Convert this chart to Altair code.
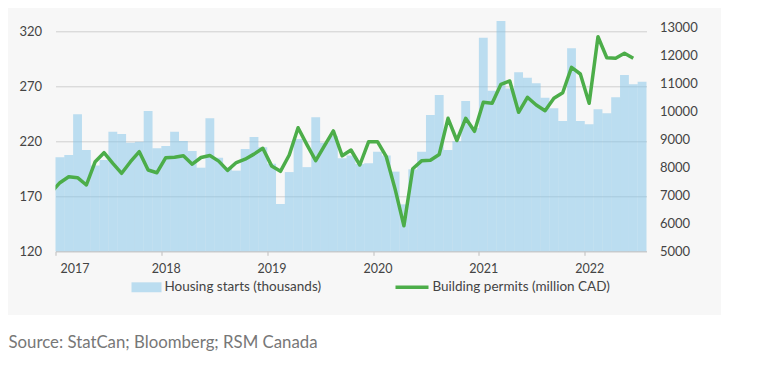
import altair as alt
import pandas as pd

# ---- data ----
bar_months = [f"{y}-{m:02d}" for y in range(2017, 2023) for m in range(1, 13)][:67]  # Jan 2017 .. Jul 2022
housing_starts = [
    205.5, 207.5, 244.5, 212.0, 198.0, 203.0, 228.7, 226.6, 218.7, 219.6, 247.5, 213.6,
    215.7, 228.7, 220.3, 211.2, 196.0, 240.9, 205.0, 196.0, 193.3, 213.0, 224.0, 214.5,
    199.5, 163.0, 192.0, 222.0, 196.5, 241.8, 218.7, 224.8, 204.5, 207.0, 199.4, 200.0,
    210.5, 207.0, 192.4, 162.7, 194.5, 210.5, 244.0, 262.0, 212.0, 220.0, 256.7, 232.0,
    314.2, 266.0, 329.4, 268.0, 282.7, 277.8, 272.7, 259.6, 250.0, 238.5, 304.5, 238.5,
    235.4, 249.0, 245.5, 260.0, 280.3, 271.8, 274.2,
]
line_months = ["2016-12"] + [f"{y}-{m:02d}" for y in range(2017, 2023) for m in range(1, 13)][:66]  # Dec 2016 .. Jun 2022
building_permits = [
    7100,
    7450, 7664, 7629, 7368, 8200, 8521, 8143, 7786, 8200, 8557, 7904, 7807,
    8343, 8357, 8414, 8110, 8350, 8420, 8220, 7890, 8170, 8290, 8470, 8679,
    8050, 7855, 8439, 9414, 8810, 8236, 8771, 9300, 8410, 8618, 8082, 8914,
    8914, 8379, 7220, 5910, 7950, 8230, 8255, 8457, 9750, 8957, 9750, 9285,
    10321, 10286, 10964, 11082, 9964, 10500, 10225, 10021, 10464, 10664, 11571, 11332,
    10286, 12664, 11914, 11893, 12071, 11893,
]
left_ticks = [120, 170, 220, 270, 320]
right_ticks = [5000, 6000, 7000, 8000, 9000, 10000, 11000, 12000, 13000]
year_ticks = [2017, 2018, 2019, 2020, 2021, 2022]
bar_label = "Housing starts (thousands)"
line_label = "Building permits (million CAD)"
source_text = "Source: StatCan; Bloomberg; RSM Canada"


def month_index(s):
    y, m = s.split("-")
    return (int(y) - 2017) * 12 + int(m) - 1


bars_df = pd.DataFrame({
    "start": [month_index(s) for s in bar_months],
    "end": [month_index(s) + 1 for s in bar_months],
    "value": housing_starts,
    "series": bar_label,
})
line_df = pd.DataFrame({
    "pos": [month_index(s) + 0.5 for s in line_months],
    "value": building_permits,
    "series": line_label,
})

FONT = "Lato"
x_scale = alt.Scale(domain=[0, 67], nice=False, zero=False)

# white strip below the grey panel (the chart background itself is the grey panel)
strip = alt.Chart(pd.DataFrame({"p": [0]})).mark_rect(color="white").encode(
    x=alt.value(-48), x2=alt.value(666), y=alt.value(287.7), y2=alt.value(331)
)

bars = alt.Chart(bars_df).mark_rect(opacity=0.5).encode(
    x=alt.X("start:Q", scale=x_scale, title=None,
            axis=alt.Axis(values=[(y - 2017) * 12 for y in year_ticks],
                          labelExpr="2017 + datum.value / 12",
                          grid=False, domainColor="#c8c8c8", tickColor="#bdbdbd",
                          tickSize=4, labelPadding=7, labelOffset=4.4,
                          labelFont=FONT, labelFontSize=12.5, labelColor="#444444")),
    x2="end:Q",
    y=alt.Y("value:Q", title=None,
            scale=alt.Scale(domain=[120, 323.6], nice=False, zero=False),
            axis=alt.Axis(orient="left", values=left_ticks, grid=True, gridColor="#cfcfcf",
                          domain=False, ticks=False, labelPadding=14,
                          labelFont=FONT, labelFontSize=13, labelColor="#444444")),
    y2=alt.datum(120),
    color=alt.Color("series:N", scale=alt.Scale(domain=[bar_label], range=["#80c3e9"]),
                    legend=alt.Legend(title=None, orient="none", legendX=76, legendY=245,
                                      direction="horizontal", padding=0, labelLimit=0,
                                      symbolType="M-1,-0.33H1V0.33H-1Z", symbolSize=900,
                                      symbolOpacity=0.5, symbolStrokeWidth=0,
                                      labelOffset=3, labelFont=FONT, labelFontSize=13.5,
                                      labelColor="#444444")),
)

line = alt.Chart(line_df).mark_line(strokeWidth=3.5, strokeJoin="round", clip=True).encode(
    x=alt.X("pos:Q", scale=x_scale),
    y=alt.Y("value:Q", title=None,
            scale=alt.Scale(domain=[5000, 13000], nice=False, zero=False),
            axis=alt.Axis(orient="right", values=right_ticks, grid=False, domain=False,
                          ticks=False, labelPadding=13, format="d",
                          labelFont=FONT, labelFontSize=13, labelColor="#444444")),
    stroke=alt.Stroke("series:N", scale=alt.Scale(domain=[line_label], range=["#4cad49"]),
                      legend=alt.Legend(title=None, orient="none", legendX=338, legendY=241.5,
                                        direction="horizontal", padding=0, labelLimit=0,
                                        symbolType="stroke", symbolSize=1089,
                                        symbolStrokeWidth=3.5, labelOffset=2,
                                        labelFont=FONT, labelFontSize=13.5,
                                        labelColor="#444444")),
)

chart = alt.layer(strip, bars, line).resolve_scale(y="independent").properties(
    width=591, height=224,
    padding={"left": 47.5, "top": 19.3, "right": 74.5, "bottom": 106.7},
    autosize=alt.AutoSizeParams(type="none"),
    background="#f7f7f7",
    title=alt.TitleParams(source_text, orient="bottom", anchor="start", frame="group",
                          dx=-47, offset=-23, font=FONT, fontSize=16.8, fontWeight="normal",
                          color="#777777"),
).configure_view(stroke=None)

chart.save("out.html", embed_options={"renderer": "svg", "actions": False})
